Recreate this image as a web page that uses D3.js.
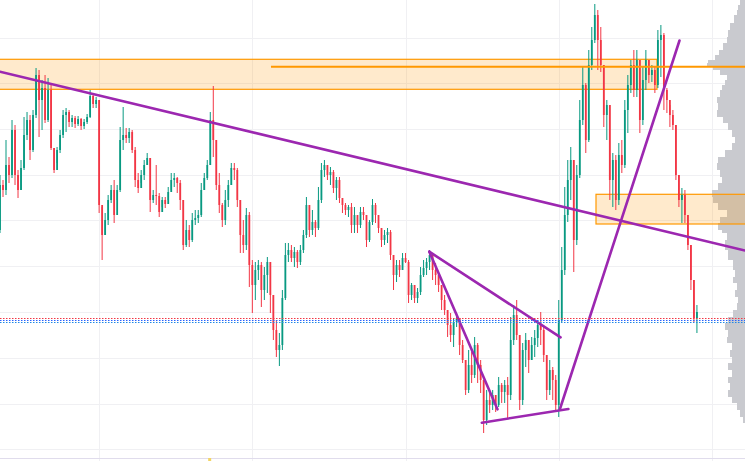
<!DOCTYPE html>
<html><head><meta charset="utf-8">
<script src="https://cdn.jsdelivr.net/npm/d3@7"></script>
<style>html,body{margin:0;padding:0;background:#fff;overflow:hidden}svg{display:block}</style>
</head><body><svg id="c" width="745" height="461"></svg>
<script>
// ---- data (price units; higher = up) ----
const firstOpen = 270;
const closes = [315,310,335,325,370,325,310,332,365,380,350,385,425,400,412,380,410,352,330,350,365,385,388,378,382,376,381,374,378,383,404,396,400,295,265,280,300,310,285,310,360,365,362,368,350,320,312,325,335,342,300,305,304,288,300,296,308,320,322,317,300,255,270,260,280,282,285,310,322,335,380,360,315,295,280,300,315,332,330,300,265,255,285,235,215,230,235,210,225,238,205,170,150,155,202,245,250,242,248,238,250,265,295,270,278,272,300,330,335,325,328,312,320,302,295,290,293,275,285,275,288,285,260,278,295,285,272,260,265,268,245,225,235,230,242,238,205,215,202,208,225,232,238,245,230,225,215,200,190,175,165,178,182,155,140,110,135,125,155,135,120,80,100,95,105,95,115,108,115,105,160,185,165,100,150,160,140,155,162,175,170,145,110,130,120,95,180,230,285,320,340,260,325,380,415,360,435,460,485,460,435,385,395,320,340,300,345,335,390,415,435,410,440,380,420,440,425,430,415,460,465,410,400,385,375,325,300,305,285,255,220,182,188];
const highs = [325,320,360,343,380,375,330,340,383,388,385,390,432,430,420,425,422,415,352,353,370,390,392,390,385,384,384,382,381,386,410,405,403,400,293,287,305,315,320,315,373,393,372,372,370,353,327,330,340,347,342,310,335,307,303,303,313,327,327,323,320,300,280,275,287,290,290,317,327,340,388,414,360,327,297,310,320,337,337,332,300,280,292,288,240,238,240,238,233,243,238,205,180,167,210,257,257,255,253,250,255,270,303,295,290,280,313,337,340,335,333,330,323,323,300,297,295,297,293,283,293,293,285,280,301,297,285,272,270,272,270,245,240,240,247,247,240,217,215,212,233,240,242,250,245,237,227,215,205,190,187,182,187,182,160,140,150,148,163,157,140,120,110,110,110,105,123,117,120,123,183,195,200,165,157,167,160,163,170,180,188,173,145,140,133,125,200,253,313,340,353,340,335,400,433,417,450,473,496,490,473,435,400,395,347,345,357,360,400,425,440,450,450,440,433,450,440,435,433,470,475,467,412,395,390,375,325,312,310,285,255,220,195];
const lows = [267,303,305,317,322,315,302,310,330,360,340,348,382,363,370,377,378,350,327,337,347,362,368,373,373,372,374,370,371,376,382,392,392,287,240,265,275,297,277,300,308,350,357,357,347,313,307,317,320,335,288,297,295,283,293,292,300,310,313,307,290,250,253,253,258,275,277,283,310,320,335,343,310,287,273,275,293,315,320,293,247,247,250,213,187,200,220,193,200,207,187,160,143,134,150,200,238,238,233,232,235,247,262,263,265,263,270,297,323,320,315,307,300,297,287,285,283,267,267,267,272,280,253,258,275,277,267,253,255,257,240,210,218,223,232,237,197,200,197,197,205,223,225,230,220,215,208,190,185,163,158,153,173,145,137,105,107,117,122,117,107,67,75,87,90,88,93,97,97,82,100,155,160,90,95,133,127,140,143,153,155,138,100,105,100,88,83,178,225,278,300,228,255,322,375,347,358,430,457,430,428,373,360,300,293,290,295,327,332,367,407,403,403,367,375,410,417,418,407,412,423,390,387,373,370,320,293,277,277,250,210,178,167];

const gridPrices = [462.5,416.7,371,325.2,279.5,233.7,188,142.2,96.5,50.7];
const gridBars = [33,84,135,186,237];

// trend lines: [bar, price] pairs
const trendLines = [
  [[0,428.3],[248,249.5]],
  [[142.9,248.3],[186.6,162.7]],
  [[142.9,248.3],[165.6,90.7]],
  [[160.4,77.3],[189.2,91]],
  [[186.4,91],[226.2,459.5]]
];
// zones: [barStart, barEnd, priceLow, priceHigh]
const zones = [
  [-5,218.7,410.7,440.7],
  [198.4,260,276,305.7]
];
const levelLine = {from:90.2, price:433.3};
const dottedLevels = [
  {price:181.5, color:"#f23645"},
  {price:179.5, color:"#2962ff"},
  {price:177.5, color:"#1e88e5"}
];
// volume profile (price level, volume)
const profilePrices = [500,495,490,485,477,470,463,457,450,445,440,437,434,430,425,420,415,410,403,397,390,383,377,370,363,357,350,343,337,330,323,317,310,303,297,290,283,277,270,267,260,250,240,230,223,217,210,203,197,190,183,177,170,163,157,150,143,137,130,123,117,110,103,97,90,83,77,72];
const profileVols = [4,5,7,8,11,15,17,18,22,26,30,37,38,32,25,18,20,23,25,28,27,28,22,17,13,10,13,20,27,28,25,23,27,33,32,27,18,25,27,23,18,20,17,12,10,12,8,10,7,8,12,17,20,17,18,13,15,13,17,13,17,15,17,13,8,5,2,0];

// ---- drawing ----
const W = 745, H = 461;
const svg = d3.select("#c");
const x = d3.scaleLinear().domain([0,248]).range([0,745]);
const y = d3.scaleLinear().domain([40,500]).range([460,0]);
const vw = d3.scaleLinear().domain([0,40]).range([0,40]);

const grid = svg.append("g");
grid.selectAll("line.h").data(gridPrices).join("line")
  .attr("x1",0).attr("x2",W).attr("y1",d=>Math.round(y(d))+0.5).attr("y2",d=>Math.round(y(d))+0.5)
  .attr("stroke","#f0f0f3").attr("stroke-width",1);
grid.selectAll("line.v").data(gridBars).join("line")
  .attr("y1",0).attr("y2",H).attr("x1",d=>Math.round(x(d))+0.5).attr("x2",d=>Math.round(x(d))+0.5)
  .attr("stroke","#f0f0f3").attr("stroke-width",1);

// volume profile
const prof = profilePrices.map((p,i)=>({p, v:profileVols[i]}));
svg.append("path").datum(prof)
  .attr("d", d3.area().curve(d3.curveStepAfter)
     .y(d=>y(d.p)).x0(W).x1(d=>W - vw(d.v)))
  .attr("fill","#c9cacf");

// zones
svg.selectAll("rect.zone").data(zones).join("rect")
  .attr("x",d=>x(d[0])).attr("width",d=>x(d[1])-x(d[0]))
  .attr("y",d=>y(d[3])).attr("height",d=>y(d[2])-y(d[3]))
  .attr("fill","rgba(255,152,0,0.2)").attr("stroke","#ff9800").attr("stroke-width",1.2);

// candles
const candles = closes.map((c,i)=>({i, o: i===0?firstOpen:closes[i-1], c, h:highs[i], l:lows[i]}));
const cg = svg.append("g");
cg.selectAll("line").data(candles).join("line")
  .attr("x1",d=>x(d.i)).attr("x2",d=>x(d.i))
  .attr("y1",d=>y(d.h)).attr("y2",d=>y(d.l))
  .attr("stroke",d=>d.c>=d.o?"#089981":"#f23645").attr("stroke-width",1);
cg.selectAll("rect").data(candles).join("rect")
  .attr("x",d=>x(d.i)-0.9).attr("width",1.8)
  .attr("y",d=>y(Math.max(d.o,d.c)))
  .attr("height",d=>Math.max(1,Math.abs(y(d.o)-y(d.c))))
  .attr("fill",d=>d.c>=d.o?"#089981":"#f23645");

// orange level line
svg.append("line").attr("x1",x(levelLine.from)).attr("x2",W)
  .attr("y1",y(levelLine.price)).attr("y2",y(levelLine.price))
  .attr("stroke","#ff9800").attr("stroke-width",2);

// trend lines
svg.selectAll("line.tl").data(trendLines).join("line")
  .attr("x1",d=>x(d[0][0])).attr("y1",d=>y(d[0][1]))
  .attr("x2",d=>x(d[1][0])).attr("y2",d=>y(d[1][1]))
  .attr("stroke","#9c27b0").attr("stroke-width",2.6).attr("stroke-linecap","round");

// dotted price lines
svg.selectAll("line.dot").data(dottedLevels).join("line")
  .attr("x1",0).attr("x2",W).attr("y1",d=>y(d.price)).attr("y2",d=>y(d.price))
  .attr("stroke",d=>d.color).attr("stroke-width",1).attr("stroke-dasharray","1.5,1.5");

// bottom border & marker
svg.append("line").attr("x1",0).attr("x2",W).attr("y1",458.5).attr("y2",458.5)
  .attr("stroke","#e0dcec").attr("stroke-width",1);
svg.append("rect").attr("x",x(69.3)).attr("y",458).attr("width",3).attr("height",3).attr("fill","#f2d465");
</script></body></html>
